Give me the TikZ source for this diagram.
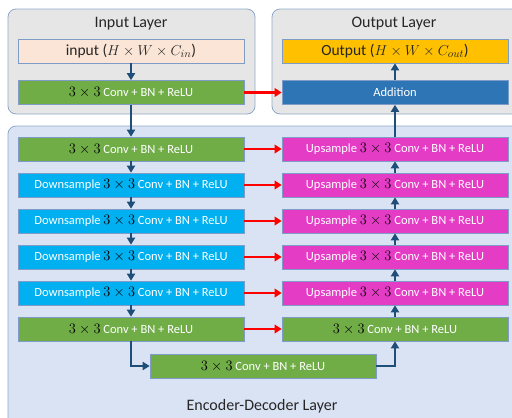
\documentclass[tikz,border=0pt]{standalone}
\usepackage{fontspec}
\setmainfont{Carlito}
\usetikzlibrary{arrows.meta}
\definecolor{panelgray}{HTML}{E7E6E6}
\definecolor{panelblue}{HTML}{DAE3F3}
\definecolor{panelline}{HTML}{8EA9C9}
\definecolor{boxline}{HTML}{7F9CC8}
\definecolor{convgreen}{HTML}{70AD47}
\definecolor{downcyan}{HTML}{00B0F0}
\definecolor{upmagenta}{HTML}{E53CC6}
\definecolor{addblue}{HTML}{2E75B6}
\definecolor{outgold}{HTML}{FFC000}
\definecolor{inpeach}{HTML}{FBE5D6}
\definecolor{flowblue}{HTML}{1F4E79}
\definecolor{darktext}{HTML}{262626}
\newcommand{\kthree}{{\fontsize{13.5}{14}\selectfont\textcolor{black}{$3\times3$}}}
\tikzset{
  panel/.style={draw=panelline, line width=0.8pt, rounded corners=8pt},
  layerbox/.style={draw=boxline, line width=0.6pt, minimum width=226pt,
    minimum height=24pt, inner sep=0pt, text=white,
    font=\fontsize{12.5}{14}\selectfont},
  convbox/.style={layerbox, fill=convgreen},
  downbox/.style={layerbox, fill=downcyan},
  upbox/.style={layerbox, fill=upmagenta},
  title/.style={text=darktext, font=\fontsize{16}{18}\selectfont},
  flow/.style={draw=flowblue, line width=2.4pt,
    -{Triangle[length=7pt,width=8pt]}},
  skip/.style={draw=red, line width=2.6pt,
    -{Triangle[length=7pt,width=8.5pt]}},
}
\begin{document}
\begin{tikzpicture}[x=1pt,y=-1pt]
\useasboundingbox (0,0) rectangle (512,418);
\clip (0,0) rectangle (512,418);

% layer panels
\draw[panel, fill=panelgray] (8,9) rectangle (255,114);
\draw[panel, fill=panelgray] (272,9) rectangle (530,114);
\draw[panel, fill=panelblue] (8,126) rectangle (530,440);

\node[title] (tin) at (131,24) {Input Layer};
\node[title] (tout) at (394,24) {Output Layer};
\node[title] (tenc) at (262,406) {Encoder-Decoder Layer};

% input layer
\node[layerbox, fill=inpeach, text=darktext, font=\fontsize{15.5}{17}\selectfont]
  (inp) at (131,51) {input ($H\times W\times C_{in}$)};
\node[convbox] (g0) at (131,92.5) {\kthree{} Conv + BN + ReLU};

% output layer
\node[layerbox, fill=outgold, text=darktext, font=\fontsize{15.5}{17}\selectfont]
  (outp) at (395,51) {Output ($H\times W\times C_{out}$)};
\node[layerbox, fill=addblue] (add) at (395,92.5) {Addition};

% encoder column
\node[convbox] (l1) at (131,149) {\kthree{} Conv + BN + ReLU};
\node[downbox] (l2) at (131,185) {Downsample \kthree{} Conv + BN + ReLU};
\node[downbox] (l3) at (131,221) {Downsample \kthree{} Conv + BN + ReLU};
\node[downbox] (l4) at (131,257) {Downsample \kthree{} Conv + BN + ReLU};
\node[downbox] (l5) at (131,293) {Downsample \kthree{} Conv + BN + ReLU};
\node[convbox] (l6) at (131,329) {\kthree{} Conv + BN + ReLU};

% decoder column
\node[upbox] (r1) at (395,149) {Upsample \kthree{} Conv + BN + ReLU};
\node[upbox] (r2) at (395,185) {Upsample \kthree{} Conv + BN + ReLU};
\node[upbox] (r3) at (395,221) {Upsample \kthree{} Conv + BN + ReLU};
\node[upbox] (r4) at (395,257) {Upsample \kthree{} Conv + BN + ReLU};
\node[upbox] (r5) at (395,293) {Upsample \kthree{} Conv + BN + ReLU};
\node[convbox] (r6) at (395,329) {\kthree{} Conv + BN + ReLU};

% bottleneck
\node[convbox] (bot) at (263,366) {\kthree{} Conv + BN + ReLU};

% main data flow
\draw[flow] (inp) -- (g0);
\draw[flow] (g0) -- (l1);
\draw[flow] (l1) -- (l2);
\draw[flow] (l2) -- (l3);
\draw[flow] (l3) -- (l4);
\draw[flow] (l4) -- (l5);
\draw[flow] (l5) -- (l6);
\draw[flow] (l6.south) |- (bot.west);
\draw[flow] (bot.east) -| (r6.south);
\draw[flow] (r6) -- (r5);
\draw[flow] (r5) -- (r4);
\draw[flow] (r4) -- (r3);
\draw[flow] (r3) -- (r2);
\draw[flow] (r2) -- (r1);
\draw[flow] (r1) -- (add);
\draw[flow] (add) -- (outp);

% skip connections
\draw[skip] (g0) -- (add);
\draw[skip] (l1) -- (r1);
\draw[skip] (l2) -- (r2);
\draw[skip] (l3) -- (r3);
\draw[skip] (l4) -- (r4);
\draw[skip] (l5) -- (r5);
\draw[skip] (l6) -- (r6);
\end{tikzpicture}
\end{document}
